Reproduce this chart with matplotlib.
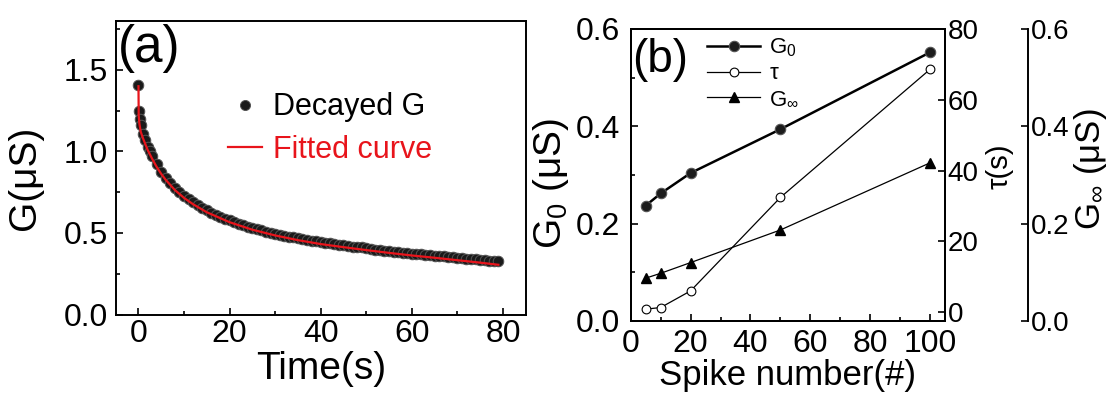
import matplotlib
matplotlib.use('Agg')
import matplotlib.pyplot as plt
from matplotlib.ticker import MultipleLocator

plt.rcParams['font.family'] = ['Liberation Sans', 'DejaVu Sans']
plt.rcParams['mathtext.fontset'] = 'custom'
plt.rcParams['mathtext.rm'] = 'Liberation Sans'
plt.rcParams['mathtext.it'] = 'Liberation Sans:italic'
plt.rcParams['mathtext.bf'] = 'Liberation Sans:bold'

# ---------------- data: panel (a) ----------------
time_s = [0, 0.1, 0.3, 0.6, 1, 1.5, 2, 2.5, 3, 4, 5, 6, 7, 8, 9, 10,
          11, 12, 13, 14, 15, 16, 17, 18, 19, 20, 21, 22, 23, 24, 25,
          26, 27, 28, 29, 30, 31, 32, 33, 34, 35, 36, 37, 38, 39, 40,
          41, 42, 43, 44, 45, 46, 47, 48, 49, 50, 51, 52, 53, 54, 55,
          56, 57, 58, 59, 60, 61, 62, 63, 64, 65, 66, 67, 68, 69, 70,
          71, 72, 73, 74, 75, 76, 77, 78, 79]
g_decay = [1.41, 1.25, 1.20, 1.16, 1.11, 1.07, 1.03, 1.00, 0.97, 0.92,
           0.875, 0.838, 0.805, 0.776, 0.750, 0.727,
           0.706, 0.687, 0.669, 0.653, 0.638, 0.624, 0.611, 0.599, 0.588, 0.577,
           0.567, 0.557, 0.548, 0.539, 0.531, 0.523, 0.516, 0.509, 0.502, 0.496,
           0.490, 0.484, 0.478, 0.473, 0.468, 0.463, 0.458, 0.453, 0.449, 0.445,
           0.440, 0.436, 0.432, 0.428, 0.425, 0.421, 0.417, 0.414, 0.411, 0.405,
           0.402, 0.398, 0.395, 0.392, 0.389, 0.386, 0.383, 0.380, 0.377, 0.374,
           0.371, 0.369, 0.366, 0.363, 0.361, 0.358, 0.356, 0.353, 0.351, 0.348,
           0.346, 0.343, 0.341, 0.338, 0.336, 0.333, 0.331, 0.328, 0.326]
fit_time = [0, 0.05, 0.2, 0.5, 1, 2, 3, 4, 5, 6, 8, 10, 12, 15, 20, 25,
            30, 35, 40, 45, 50, 55, 60, 65, 70, 75, 79]
g_fit = [1.40, 1.22, 1.17, 1.12, 1.08, 1.01, 0.955, 0.905, 0.862, 0.825,
         0.763, 0.715, 0.676, 0.627, 0.566, 0.520, 0.485, 0.456, 0.432,
         0.413, 0.395, 0.378, 0.362, 0.348, 0.333, 0.318, 0.305]

# ---------------- data: panel (b) ----------------
spike_number = [5, 10, 20, 50, 100]
g0 = [0.237, 0.262, 0.304, 0.394, 0.552]
tau = [0.85, 1.3, 6.0, 32.4, 68.6]
g_inf = [0.088, 0.098, 0.120, 0.187, 0.325]

W, H = 1108, 394
fig = plt.figure(figsize=(W / 100, H / 100), dpi=100)

def frac(l, r, t, b):
    return [l / W, 1 - b / H, (r - l) / W, (b - t) / H]

SP_LW = 1.4

# ================= panel (a) =================
axa = fig.add_axes(frac(115.7, 525.7, 21, 314.5))
axa.plot(time_s, g_decay, 'o', ms=7.6, mfc='#1a1a1a', mec='#555555',
         mew=0.7, label='Decayed G', zorder=2)
axa.plot(fit_time, g_fit, '-', color='#e8141b', lw=1.6,
         label='Fitted curve', zorder=3)
axa.set_xlim(-5, 85)
axa.set_ylim(0, 1.8)
axa.xaxis.set_major_locator(MultipleLocator(20))
axa.xaxis.set_minor_locator(MultipleLocator(10))
axa.yaxis.set_major_locator(MultipleLocator(0.5))
axa.yaxis.set_minor_locator(MultipleLocator(0.25))
axa.tick_params(which='both', direction='in', labelsize=23, width=1.2)
axa.tick_params(which='major', length=5)
axa.tick_params(which='minor', length=3)
axa.tick_params(axis='y', which='both', pad=5.5)
for s in axa.spines.values():
    s.set_linewidth(SP_LW)
axa.set_xlabel('Time(s)', fontsize=28)
axa.xaxis.set_label_coords(0.5, -0.125)
axa.set_ylabel('G(μS)', fontsize=28)
axa.yaxis.set_label_coords(-0.178, 0.465)
axa.text(0.005, 0.905, '(a)', transform=axa.transAxes, fontsize=37,
         ha='left', va='center')
axa.legend(loc='upper left', bbox_to_anchor=(0.275, 0.757),
           frameon=False, fontsize=22, handlelength=1.1,
           handletextpad=0.35, labelspacing=0.4, borderpad=0,
           borderaxespad=0, markerscale=0.95,
           labelcolor=['black', '#e8141b'])

# ================= panel (b) =================
axb = fig.add_axes(frac(630.7, 945, 29, 321))
l1, = axb.plot(spike_number, g0, '-o', color='black', lw=1.8, ms=7.5,
               mfc='#1c1c1c', mec='#555555', mew=0.8, label='G$_\\mathregular{0}$',
               zorder=4)
axb.set_xlim(0, 105)
axb.set_ylim(0, 0.6)
axb.xaxis.set_major_locator(MultipleLocator(20))
axb.xaxis.set_minor_locator(MultipleLocator(10))
axb.yaxis.set_major_locator(MultipleLocator(0.2))
axb.yaxis.set_minor_locator(MultipleLocator(0.1))
axb.tick_params(which='both', direction='in', labelsize=23, width=1.2)
axb.tick_params(which='major', length=5)
axb.tick_params(which='minor', length=3)
axb.tick_params(axis='y', which='both', pad=7.5)
axb.tick_params(axis='x', which='both', pad=6)
axb.set_xlabel('Spike number(#)', fontsize=25)
axb.xaxis.set_label_coords(0.5, -0.13)
axb.set_ylabel('G$_\\mathregular{0}$ (μS)', fontsize=28)
axb.yaxis.set_label_coords(-0.19, 0.47)
axb.text(0.006, 0.893, '(b)', transform=axb.transAxes, fontsize=33,
         ha='left', va='center')

axt = axb.twinx()
l2, = axt.plot(spike_number, tau, '-o', color='black', lw=0.9, ms=6.3,
               mfc='white', mec='black', mew=0.8, label='τ', zorder=3)
axt.set_ylim(-2.5, 80)
axt.yaxis.set_major_locator(MultipleLocator(20))
axt.tick_params(which='both', direction='in', labelsize=20, width=1.2,
                length=5, pad=2)
axt.set_ylabel('τ(s)', fontsize=21)
axt.yaxis.set_label_coords(1.128, 0.53)

axg = axb.twinx()
axg.spines['right'].set_position(('axes', 1.264))
for k in ('top', 'bottom', 'left'):
    axg.spines[k].set_visible(False)
l3, = axg.plot(spike_number, g_inf, '-^', color='black', lw=0.9, ms=7.5,
               mfc='black', mec='black', label='G$_\\mathregular{\\infty}$',
               zorder=3)
axg.set_ylim(0, 0.6)
axg.yaxis.set_major_locator(MultipleLocator(0.2))
axg.tick_params(which='both', direction='in', labelsize=20, width=1.2,
                length=5, pad=2)
axg.set_ylabel('G$_\\mathregular{\\infty}$ (μS)', fontsize=25)
axg.yaxis.set_label_coords(1.405, 0.52)

for a in (axb, axt, axg):
    for s in a.spines.values():
        s.set_linewidth(SP_LW)

axb.legend(handles=[l1, l2, l3], loc='upper left',
           bbox_to_anchor=(0.243, 0.975), frameon=False, fontsize=16,
           handlelength=2.4, handletextpad=0.4, labelspacing=0.2,
           borderpad=0, borderaxespad=0)

fig.savefig('out.png', dpi=100)
